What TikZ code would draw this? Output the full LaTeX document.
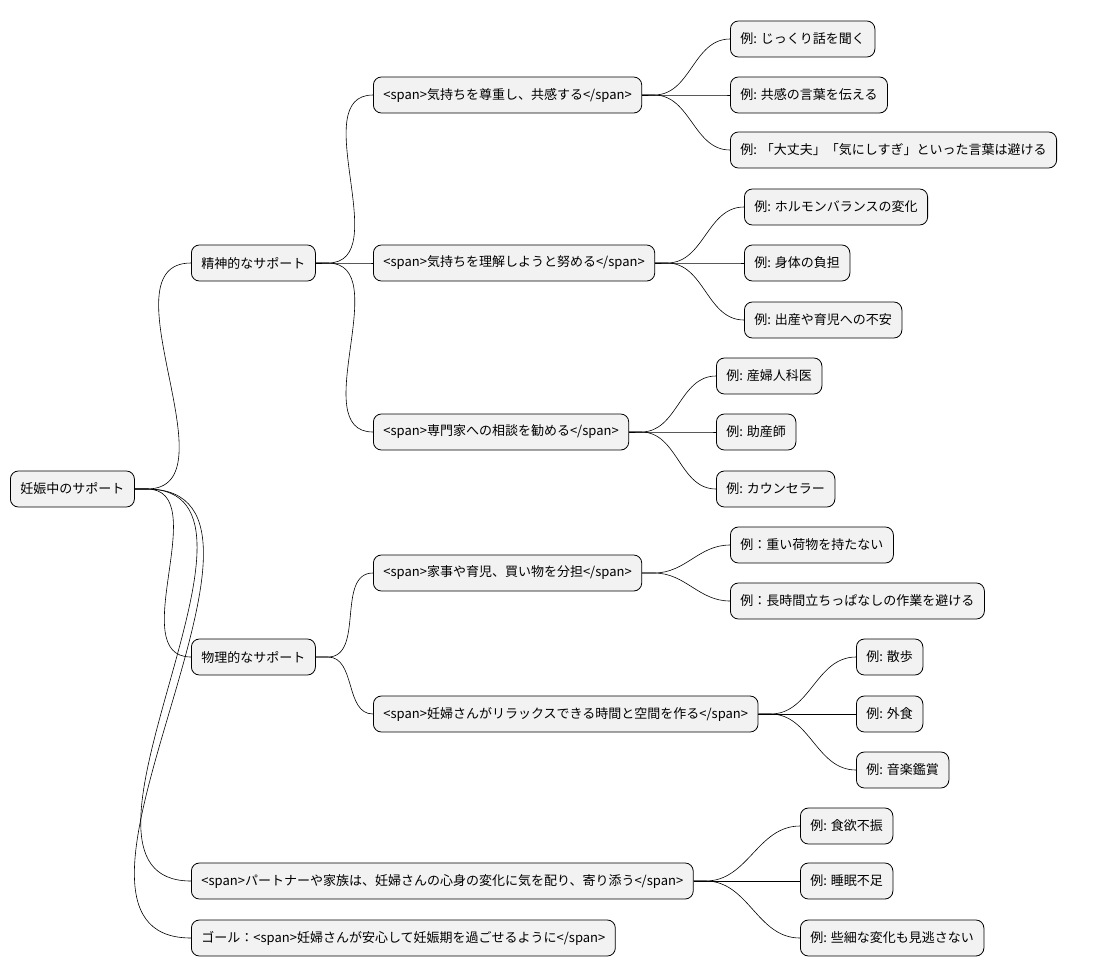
\documentclass[tikz,border=0pt]{standalone}
\usepackage{fontspec}
\setmainfont{Noto Sans CJK JP}
\tikzset{
  topic/.style={draw, rounded corners=8pt, fill=gray!10, minimum height=36pt,
    inner xsep=10pt, anchor=west, font=\fontsize{13}{15}\selectfont, line width=0.8pt},
  branch/.style={line width=0.6pt}
}
\newcommand{\conn}[2]{\draw[branch] (#1.east) -- ++(12pt,0) to[out=0,in=180] (#2.west);}
\begin{document}
\begin{tikzpicture}[x=1pt,y=-1pt]
  \useasboundingbox (0,0) rectangle (1093,978);

  % root
  \node[topic] (root) at (10,489) {妊娠中のサポート};

  % first level
  \node[topic] (mind) at (191,263) {精神的なサポート};
  \node[topic] (body) at (191,657) {物理的なサポート};
  \node[topic] (family) at (191,881) {<span>パートナーや家族は、妊婦さんの心身の変化に気を配り、寄り添う</span>};
  \node[topic] (goal) at (191,938) {ゴール：<span>妊婦さんが安心して妊娠期を過ごせるように</span>};

  % mental support
  \node[topic] (respect) at (373,95) {<span>気持ちを尊重し、共感する</span>};
  \node[topic] (understand) at (373,263) {<span>気持ちを理解しようと努める</span>};
  \node[topic] (expert) at (373,432) {<span>専門家への相談を勧める</span>};

  \node[topic] (r1) at (730,39) {例: じっくり話を聞く};
  \node[topic] (r2) at (730,95) {例: 共感の言葉を伝える};
  \node[topic] (r3) at (730,150) {例: 「大丈夫」「気にしすぎ」といった言葉は避ける};
  \node[topic] (u1) at (744,207) {例: ホルモンバランスの変化};
  \node[topic] (u2) at (744,263) {例: 身体の負担};
  \node[topic] (u3) at (744,320) {例: 出産や育児への不安};
  \node[topic] (e1) at (716,376) {例: 産婦人科医};
  \node[topic] (e2) at (716,432) {例: 助産師};
  \node[topic] (e3) at (716,489) {例: カウンセラー};

  % physical support
  \node[topic] (chores) at (373,573) {<span>家事や育児、買い物を分担</span>};
  \node[topic] (relax) at (373,714) {<span>妊婦さんがリラックスできる時間と空間を作る</span>};

  \node[topic] (c1) at (730,545) {例：重い荷物を持たない};
  \node[topic] (c2) at (730,601) {例：長時間立ちっぱなしの作業を避ける};
  \node[topic] (x1) at (856,657) {例: 散歩};
  \node[topic] (x2) at (856,714) {例: 外食};
  \node[topic] (x3) at (856,770) {例: 音楽鑑賞};

  % family
  \node[topic] (f1) at (800,826) {例: 食欲不振};
  \node[topic] (f2) at (800,881) {例: 睡眠不足};
  \node[topic] (f3) at (800,938) {例: 些細な変化も見逃さない};

  % connectors
  \foreach \c in {mind,body,family,goal} {\conn{root}{\c}}
  \foreach \c in {respect,understand,expert} {\conn{mind}{\c}}
  \foreach \c in {r1,r2,r3} {\conn{respect}{\c}}
  \foreach \c in {u1,u2,u3} {\conn{understand}{\c}}
  \foreach \c in {e1,e2,e3} {\conn{expert}{\c}}
  \foreach \c in {chores,relax} {\conn{body}{\c}}
  \foreach \c in {c1,c2} {\conn{chores}{\c}}
  \foreach \c in {x1,x2,x3} {\conn{relax}{\c}}
  \foreach \c in {f1,f2,f3} {\conn{family}{\c}}
\end{tikzpicture}
\end{document}
